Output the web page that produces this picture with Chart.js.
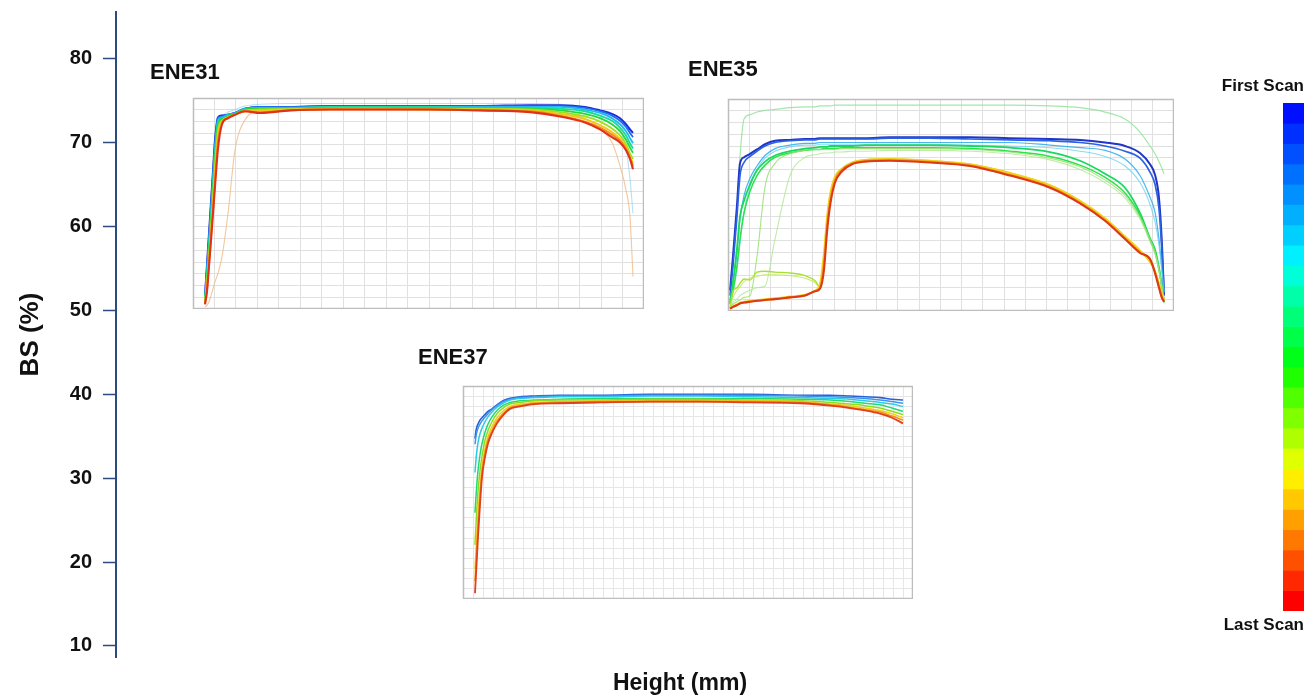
<!DOCTYPE html>
<html>
<head>
<meta charset="utf-8">
<title>BS profiles – ENE31, ENE35, ENE37</title>
<script src="https://cdn.jsdelivr.net/npm/chart.js@4.4.1/dist/chart.umd.min.js"></script>
<style>
  html, body { margin: 0; padding: 0; background: #ffffff; }
  #stage { position: relative; width: 1314px; height: 697px; overflow: hidden; }
  #stage canvas { position: absolute; }
</style>
</head>
<body>
<div id="stage">
  <canvas id="mainAxes" width="1314" height="697" style="left:0;top:0"></canvas>
  <canvas id="ene31" width="494" height="249" style="left:150px;top:60px"></canvas>
  <canvas id="ene35" width="486" height="254" style="left:688px;top:57px"></canvas>
  <canvas id="ene37" width="495" height="254" style="left:418px;top:345px"></canvas>
  <canvas id="scanScale" width="100" height="566" style="left:1210px;top:72px"></canvas>
</div>
<script>
// ---------- axis ticks ----------
const yTickValues = [10, 20, 30, 40, 50, 60, 70, 80];

// ---------- colour scale, first scan (top) to last scan (bottom) ----------
const scanColours = [
  '#0010ff', '#0030ff', '#0050ff', '#0070ff', '#0090ff', '#00b0ff', '#00d0ff',
  '#00f0ff', '#00ffd8', '#00ffa8', '#00ff78', '#00ff48', '#00ff18', '#20ff00',
  '#50ff00', '#80ff00', '#b0ff00', '#e0ff00', '#ffee00', '#ffc800', '#ffa000',
  '#ff7800', '#ff5000', '#ff2800', '#ff0000'
];

// ---------- ENE31 : height (mm) and BS (%) per scan ----------
const ene31Height = [1.2, 1.4, 1.6, 1.8, 2.0, 2.2, 2.5, 2.9, 3.5, 4.2, 5.2, 6.7, 9.7,
  13.7, 18.7, 23.7, 28.7, 33.7, 36.7, 39.2, 40.7, 41.9, 42.7, 43.3, 43.7, 44.0];
const ene31Scan1 = [52.0, 55.6, 59.2, 62.8, 66.4, 70.0, 72.6, 72.8, 72.9, 73.1, 73.6, 73.8, 73.8,
  73.9, 73.9, 73.9, 73.9, 74.0, 74.0, 73.8, 73.4, 73.0, 72.5, 71.8, 71.2, 70.8];
const ene31Scan2 = [51.8, 55.2, 58.8, 62.4, 66.0, 69.6, 72.5, 72.7, 72.9, 73.1, 73.6, 73.8, 73.8,
  73.9, 73.9, 73.9, 73.9, 73.9, 73.9, 73.7, 73.3, 72.8, 72.2, 71.5, 70.8, 70.3];
const ene31Scan3 = [51.6, 54.8, 58.2, 61.8, 65.4, 69.0, 72.3, 72.6, 72.9, 73.1, 73.6, 73.7, 73.7,
  73.8, 73.8, 73.8, 73.8, 73.8, 73.8, 73.5, 73.1, 72.5, 71.8, 71.0, 70.2, 69.6];
const ene31Scan4 = [51.5, 54.4, 57.7, 61.2, 64.8, 68.4, 72.0, 72.5, 72.8, 73.0, 73.5, 73.7, 73.7,
  73.8, 73.8, 73.8, 73.7, 73.7, 73.6, 73.3, 72.8, 72.2, 71.4, 70.5, 69.6, 69.0];
const ene31Scan5 = [51.4, 54.0, 57.2, 60.6, 64.2, 67.8, 71.7, 72.4, 72.7, 73.0, 73.5, 73.6, 73.7,
  73.7, 73.7, 73.7, 73.7, 73.6, 73.4, 73.0, 72.5, 71.8, 71.0, 70.0, 69.1, 68.5];
const ene31Scan6 = [51.3, 53.6, 56.6, 59.9, 63.4, 67.0, 71.2, 72.2, 72.6, 72.9, 73.4, 73.5, 73.6,
  73.6, 73.6, 73.6, 73.6, 73.5, 73.2, 72.7, 72.1, 71.3, 70.5, 69.5, 68.4, 67.8];
const ene31Scan7 = [51.2, 53.2, 56.1, 59.3, 62.7, 66.2, 70.6, 72.1, 72.6, 72.9, 73.3, 73.4, 73.5,
  73.6, 73.6, 73.5, 73.5, 73.4, 73.0, 72.4, 71.7, 70.9, 70.1, 69.2, 68.1, 67.3];
const ene31Scan8 = [51.1, 52.8, 55.7, 58.8, 62.0, 65.3, 69.8, 71.9, 72.5, 72.9, 73.3, 73.2, 73.4,
  73.5, 73.5, 73.5, 73.4, 73.3, 72.8, 72.1, 71.4, 70.6, 69.9, 69.0, 67.9, 67.0];
const ene31Scan9 = [51.0, 52.5, 55.4, 58.4, 61.5, 64.6, 69.0, 71.8, 72.5, 72.9, 73.3, 73.1, 73.4,
  73.5, 73.5, 73.5, 73.4, 73.2, 72.7, 72.0, 71.2, 70.3, 69.7, 68.8, 67.8, 66.6];
const ene31FaintBlue = [51.7, 55.0, 58.5, 62.1, 65.7, 69.3, 72.4, 72.8, 73.2, 73.5, 73.9, 74.1, 74.2,
  74.2, 74.2, 74.2, 74.2, 74.2, 74.1, 73.8, 73.3, 72.5, 71.3, 69.0, 65.5, 61.5];
const ene31FaintOrange = [50.7, 50.9, 51.3, 52.0, 52.8, 53.6, 54.6, 56.5, 61.5, 68.8, 72.3, 73.3, 73.4,
  73.5, 73.5, 73.5, 73.4, 73.2, 73.0, 72.5, 71.3, 69.7, 67.0, 64.2, 61.1, 54.2];

// ---------- ENE35 ----------
const ene35Height = [0.2, 0.5, 0.9, 1.2, 1.6, 2.2, 2.9, 3.7, 4.7, 6.2, 7.7, 8.7, 9.2, 9.6, 9.9, 10.2,
  10.7, 11.4, 12.4, 13.7, 16.2, 20.2, 24.2, 28.2, 32.2, 35.2, 37.7, 39.7, 41.2, 42.2, 42.7, 43.1, 43.4, 43.6];
const ene35FaintTop = [51.1, 55.5, 62.0, 68.0, 72.3, 72.8, 73.1, 73.3, 73.4, 73.6, 73.7, 73.7, 73.8, 73.8, 73.8, 73.8,
  73.9, 73.9, 73.9, 73.9, 73.9, 73.9, 73.9, 73.9, 73.8, 73.6, 73.1, 72.3, 70.8, 69.2, 68.3, 67.4, 66.6, 66.0];
const ene35Scan1 = [52.6, 56.5, 62.4, 67.2, 67.9, 68.3, 68.8, 69.4, 69.8, 69.9, 70.0, 70.0, 70.1, 70.1, 70.1, 70.1,
  70.1, 70.1, 70.1, 70.1, 70.2, 70.2, 70.2, 70.1, 70.0, 69.9, 69.6, 69.2, 68.4, 67.1, 65.9, 63.2, 57.8, 52.0];
const ene35Scan2 = [52.0, 55.5, 61.2, 65.8, 67.3, 68.0, 68.6, 69.2, 69.6, 69.8, 69.9, 69.9, 70.0, 70.0, 70.0, 70.0,
  70.0, 70.0, 70.0, 70.0, 70.1, 70.1, 70.0, 69.9, 69.8, 69.6, 69.2, 68.6, 67.8, 66.2, 64.8, 62.0, 57.0, 52.5];
const ene35Scan3 = [51.5, 53.5, 57.0, 60.8, 63.5, 65.5, 66.9, 68.1, 68.9, 69.3, 69.5, 69.5, 69.6, 69.6, 69.6, 69.6,
  69.6, 69.6, 69.6, 69.6, 69.6, 69.6, 69.6, 69.6, 69.3, 69.0, 68.7, 67.7, 65.8, 63.3, 61.6, 58.5, 55.0, 52.5];
const ene35Scan4 = [51.3, 52.5, 55.0, 58.0, 61.5, 64.5, 66.5, 67.8, 68.6, 69.1, 69.3, 69.3, 69.4, 69.4, 69.4, 69.4,
  69.4, 69.4, 69.4, 69.4, 69.4, 69.4, 69.3, 69.2, 69.0, 68.6, 68.0, 66.9, 65.0, 62.5, 60.5, 57.8, 54.6, 52.4];
const ene35Scan5 = [51.1, 53.5, 57.5, 61.1, 62.9, 64.8, 66.4, 67.4, 68.1, 68.6, 68.9, 69.0, 69.1, 69.1, 69.1, 69.2,
  69.2, 69.2, 69.2, 69.3, 69.3, 69.3, 69.2, 69.0, 68.5, 67.5, 66.0, 64.4, 61.5, 58.6, 57.3, 55.2, 53.0, 51.3];
const ene35Scan6 = [51.0, 52.5, 55.5, 58.5, 61.5, 64.0, 65.8, 67.0, 67.9, 68.4, 68.7, 68.8, 68.8, 68.9, 68.9, 68.9,
  68.9, 69.0, 69.0, 69.0, 69.0, 69.0, 68.9, 68.6, 68.0, 67.0, 65.6, 63.8, 61.2, 58.4, 57.0, 55.0, 52.8, 51.2];
const ene35Scan7 = [50.8, 51.0, 51.3, 51.5, 51.8, 52.0, 56.5, 64.5, 67.2, 68.3, 68.7, 68.8, 68.8, 68.8, 68.8, 68.8,
  68.8, 68.9, 68.9, 68.9, 68.9, 68.9, 68.8, 68.5, 67.8, 66.8, 65.3, 63.5, 61.0, 58.5, 57.0, 55.0, 53.0, 51.5];
const ene35Scan8 = [50.7, 51.2, 51.6, 52.0, 52.3, 52.6, 52.9, 53.1, 58.5, 65.8, 67.9, 68.2, 68.3, 68.4, 68.4, 68.4,
  68.5, 68.5, 68.6, 68.6, 68.7, 68.7, 68.6, 68.3, 67.6, 66.5, 65.0, 63.2, 60.8, 58.2, 56.8, 54.8, 52.8, 51.4];
const ene35Scan9 = [50.6, 52.5, 52.9, 53.4, 53.9, 53.8, 54.7, 54.8, 54.7, 54.6, 54.3, 53.7, 53.0, 56.6, 60.8, 63.5,
  65.6, 66.6, 67.3, 67.6, 67.7, 67.5, 67.1, 66.1, 64.7, 62.9, 60.9, 58.8, 57.2, 55.9, 54.8, 53.4, 52.2, 51.6];
const ene35Scan10 = [50.6, 51.8, 52.6, 53.0, 53.6, 54.0, 54.2, 54.4, 54.4, 54.3, 54.0, 53.5, 52.9, 56.2, 60.5, 63.3,
  65.5, 66.5, 67.2, 67.5, 67.6, 67.4, 67.0, 66.0, 64.6, 62.8, 60.8, 58.7, 57.1, 55.8, 54.7, 53.3, 52.1, 51.5];
const ene35Scan11 = [50.5, 50.8, 51.0, 51.2, 51.3, 51.4, 51.5, 51.6, 51.7, 51.9, 52.1, 52.6, 53.4, 57.0, 61.0, 63.6,
  65.7, 66.6, 67.3, 67.6, 67.7, 67.5, 67.1, 66.1, 64.7, 62.9, 60.9, 58.8, 57.2, 55.9, 54.8, 53.4, 52.2, 51.6];
const ene35Scan12 = [50.5, 50.7, 50.9, 51.1, 51.2, 51.3, 51.4, 51.5, 51.6, 51.8, 52.0, 52.5, 52.9, 55.8, 60.0, 62.8,
  65.3, 66.5, 67.2, 67.5, 67.6, 67.4, 67.0, 65.9, 64.5, 62.7, 60.7, 58.6, 57.0, 56.2, 54.7, 53.0, 51.8, 51.4];
const ene35Scan13 = [50.5, 50.7, 50.9, 51.1, 51.2, 51.3, 51.4, 51.5, 51.6, 51.8, 52.0, 52.5, 52.8, 55.0, 59.3, 62.3,
  65.0, 66.3, 67.1, 67.4, 67.5, 67.3, 66.9, 65.8, 64.4, 62.6, 60.6, 58.5, 56.9, 56.2, 54.6, 52.9, 51.7, 51.3];

// ---------- ENE37 ----------
const ene37Height = [1.2, 1.3, 1.4, 1.5, 1.7, 1.9, 2.2, 2.5, 2.9, 3.4, 4.0, 4.7, 5.7, 7.2, 9.7,
  13.7, 18.7, 23.7, 28.7, 33.7, 36.7, 38.7, 40.2, 41.7, 42.9, 44.0];
const ene37Scan1 = [35.2, 36.2, 36.7, 37.0, 37.5, 37.8, 38.2, 38.6, 38.9, 39.4, 39.9, 40.2, 40.4, 40.5, 40.6,
  40.6, 40.7, 40.7, 40.7, 40.6, 40.6, 40.5, 40.4, 40.3, 40.1, 40.0];
const ene37Scan2 = [34.5, 35.5, 36.1, 36.5, 37.0, 37.4, 37.9, 38.3, 38.8, 39.3, 39.8, 40.1, 40.3, 40.4, 40.5,
  40.5, 40.6, 40.6, 40.6, 40.5, 40.4, 40.3, 40.2, 40.0, 39.8, 39.6];
const ene37Scan3 = [31.0, 32.6, 33.8, 34.7, 35.8, 36.5, 37.3, 37.9, 38.5, 39.1, 39.6, 40.0, 40.2, 40.3, 40.4,
  40.4, 40.5, 40.5, 40.4, 40.3, 40.2, 40.1, 39.9, 39.7, 39.5, 39.2];
const ene37Scan4 = [26.0, 28.0, 29.8, 31.2, 33.2, 34.6, 36.0, 37.0, 37.9, 38.7, 39.3, 39.7, 39.9, 40.0, 40.1,
  40.2, 40.2, 40.2, 40.2, 40.1, 40.0, 39.8, 39.6, 39.4, 39.0, 38.6];
const ene37Scan5 = [22.0, 24.5, 26.8, 28.6, 31.2, 33.0, 35.0, 36.2, 37.3, 38.3, 39.0, 39.5, 39.7, 39.9, 40.0,
  40.0, 40.1, 40.1, 40.0, 39.9, 39.7, 39.5, 39.3, 39.0, 38.6, 38.2];
const ene37Scan6 = [19.0, 21.3, 23.6, 25.8, 29.2, 31.8, 34.0, 35.5, 36.7, 37.8, 38.6, 39.2, 39.5, 39.7, 39.8,
  39.9, 39.9, 39.9, 39.9, 39.8, 39.5, 39.3, 39.0, 38.7, 38.3, 37.8];
const ene37Scan7 = [17.5, 19.8, 22.0, 24.3, 28.0, 31.0, 33.4, 35.0, 36.2, 37.4, 38.3, 39.0, 39.3, 39.6, 39.7,
  39.8, 39.8, 39.8, 39.8, 39.7, 39.4, 39.1, 38.8, 38.5, 38.0, 37.5];
const ene37Scan8 = [16.0, 18.3, 20.6, 23.0, 27.0, 30.4, 32.9, 34.6, 35.9, 37.1, 38.1, 38.9, 39.2, 39.5, 39.6,
  39.7, 39.8, 39.8, 39.7, 39.6, 39.3, 39.0, 38.7, 38.3, 37.8, 37.1];

// ---------- helpers ----------
const FONT = '"Liberation Sans", Arial, Helvetica, sans-serif';
const INK = '#111111';
const AXIS_BLUE = '#2c4a7e';

function scanLine(heights, values, colour, width, order) {
  return {
    data: heights.map((h, i) => ({ x: h, y: values[i] })),
    borderColor: colour,
    borderWidth: width,
    pointRadius: 0,
    fill: false,
    cubicInterpolationMode: 'monotone',
    order: order
  };
}

// white panel with a grey frame around the plotting area
const panelFrame = {
  id: 'panelFrame',
  beforeDraw(chart) {
    const { ctx, chartArea: a } = chart;
    ctx.save();
    ctx.fillStyle = '#ffffff';
    ctx.fillRect(a.left, a.top, a.right - a.left, a.bottom - a.top);
    ctx.restore();
  },
  afterDraw(chart) {
    const { ctx, chartArea: a } = chart;
    ctx.save();
    ctx.strokeStyle = '#bdbdbd';
    ctx.lineWidth = 1.5;
    ctx.strokeRect(a.left + 0.5, a.top + 0.5, a.right - a.left - 1, a.bottom - a.top - 1);
    ctx.restore();
  }
};

function evenTicks(stepCount) {
  return scale => {
    const ticks = [];
    const step = (scale.max - scale.min) / stepCount;
    for (let i = 0; i <= stepCount; i++) ticks.push({ value: scale.min + i * step });
    scale.ticks = ticks;
  };
}

function panelChart(canvasId, title, datasets, cfg) {
  return new Chart(document.getElementById(canvasId), {
    type: 'line',
    data: { datasets },
    plugins: [panelFrame],
    options: {
      responsive: false,
      animation: false,
      devicePixelRatio: 1,
      events: [],
      layout: { padding: 0 },
      plugins: {
        legend: { display: false },
        tooltip: { enabled: false },
        title: {
          display: true, text: title, align: 'start', color: INK,
          font: { family: FONT, size: 22, weight: 'bold' },
          padding: { top: 0, bottom: cfg.titleGap }
        }
      },
      scales: {
        x: {
          type: 'linear', min: 0, max: cfg.xMax,
          afterBuildTicks: evenTicks(cfg.cols),
          afterFit: s => { s.height = 0; },
          ticks: { display: false },
          border: { display: false },
          grid: { color: cfg.gridColour, lineWidth: 1, drawTicks: false }
        },
        y: {
          type: 'linear', min: cfg.yMin, max: cfg.yMax,
          afterBuildTicks: evenTicks(cfg.rows),
          afterFit: s => { s.width = cfg.inset; },
          ticks: { display: false },
          border: { display: false },
          grid: { color: cfg.gridColour, lineWidth: 1, drawTicks: false }
        }
      }
    }
  });
}

// ---------- main axes: BS (%) against height ----------
new Chart(document.getElementById('mainAxes'), {
  type: 'line',
  data: { datasets: [] },
  options: {
    responsive: false,
    animation: false,
    devicePixelRatio: 1,
    events: [],
    layout: { padding: { top: 12, right: 70, left: 0, bottom: 0 } },
    plugins: { legend: { display: false }, tooltip: { enabled: false } },
    scales: {
      x: {
        type: 'linear', min: 0, max: 1,
        afterFit: s => { s.height = 40; s.paddingLeft = 0; s.paddingRight = 0; },
        ticks: { display: false },
        border: { display: false },
        grid: { display: false },
        title: {
          display: true, text: 'Height (mm)', color: INK,
          font: { family: FONT, size: 23, weight: 'bold' },
          padding: { top: 0, bottom: 0 }
        }
      },
      y: {
        type: 'linear', min: 8.67, max: 85.6,
        afterBuildTicks: s => { s.ticks = yTickValues.map(v => ({ value: v })); },
        afterFit: s => { s.width = 116; s.paddingTop = 0; s.paddingBottom = 0; },
        ticks: {
          autoSkip: false, padding: 11, color: INK,
          font: { family: FONT, size: 20, weight: 'bold' }
        },
        border: { display: true, color: AXIS_BLUE, width: 2 },
        grid: {
          drawOnChartArea: false, drawTicks: true, tickLength: 13,
          tickColor: AXIS_BLUE, tickWidth: 1.5
        },
        title: {
          display: true, text: 'BS (%)', color: INK,
          font: { family: FONT, size: 26, weight: 'bold' },
          padding: { top: 15, bottom: 0 }
        }
      }
    }
  }
});

// ---------- ENE31 panel ----------
panelChart('ene31', 'ENE31', [
  scanLine(ene31Height, ene31FaintBlue, 'rgba(120,200,235,0.55)', 1.1, 20),
  scanLine(ene31Height, ene31FaintOrange, 'rgba(240,190,140,0.85)', 1.1, 20),
  scanLine(ene31Height, ene31Scan1, '#1c2bd6', 2.0, 0),
  scanLine(ene31Height, ene31Scan2, '#1f6cf0', 1.8, -1),
  scanLine(ene31Height, ene31Scan3, '#1fb8f0', 1.8, -2),
  scanLine(ene31Height, ene31Scan4, '#19d9a0', 1.8, -3),
  scanLine(ene31Height, ene31Scan5, '#22d83a', 1.8, -4),
  scanLine(ene31Height, ene31Scan6, '#9be01c', 1.8, -5),
  scanLine(ene31Height, ene31Scan7, '#f2c71a', 1.8, -6),
  scanLine(ene31Height, ene31Scan8, '#f58a1c', 1.9, -7),
  scanLine(ene31Height, ene31Scan9, '#e0321a', 2.1, -8)
], { xMax: 45.1, cols: 21, yMin: 50.46, yMax: 74.83, rows: 18, inset: 43, titleGap: 11.6, gridColour: '#e0e0e0' });

// ---------- ENE35 panel ----------
panelChart('ene35', 'ENE35', [
  scanLine(ene35Height, ene35FaintTop, 'rgba(140,225,150,0.8)', 1.2, 20),
  scanLine(ene35Height, ene35Scan1, '#2035c8', 2.0, 0),
  scanLine(ene35Height, ene35Scan2, '#2a62e0', 1.7, -1),
  scanLine(ene35Height, ene35Scan3, 'rgba(40,170,235,0.85)', 1.2, -2),
  scanLine(ene35Height, ene35Scan4, 'rgba(100,205,240,0.75)', 1.1, -3),
  scanLine(ene35Height, ene35Scan5, '#19d860', 1.8, -4),
  scanLine(ene35Height, ene35Scan6, '#2ee04a', 1.5, -5),
  scanLine(ene35Height, ene35Scan7, 'rgba(150,225,110,0.85)', 1.1, -6),
  scanLine(ene35Height, ene35Scan8, 'rgba(170,230,140,0.75)', 1.1, -7),
  scanLine(ene35Height, ene35Scan9, '#a8e03a', 1.4, -8),
  scanLine(ene35Height, ene35Scan10, 'rgba(190,230,80,0.8)', 1.1, -9),
  scanLine(ene35Height, ene35Scan11, '#f3d21a', 1.8, -10),
  scanLine(ene35Height, ene35Scan12, '#f59a1e', 1.8, -11),
  scanLine(ene35Height, ene35Scan13, '#dc3a14', 2.1, -12)
], { xMax: 44.6, cols: 21, yMin: 50.23, yMax: 74.6, rows: 18, inset: 40, titleGap: 15.6, gridColour: '#e0e0e0' });

// ---------- ENE37 panel ----------
panelChart('ene37', 'ENE37', [
  scanLine(ene37Height, ene37Scan1, '#2a5fd8', 1.6, 0),
  scanLine(ene37Height, ene37Scan2, '#3e94ea', 1.5, -1),
  scanLine(ene37Height, ene37Scan3, '#2ec8e6', 1.5, -2),
  scanLine(ene37Height, ene37Scan4, '#22d870', 1.5, -3),
  scanLine(ene37Height, ene37Scan5, '#8edc22', 1.5, -4),
  scanLine(ene37Height, ene37Scan6, '#f0cf1c', 1.5, -5),
  scanLine(ene37Height, ene37Scan7, '#f49020', 1.6, -6),
  scanLine(ene37Height, ene37Scan8, '#e0401c', 1.8, -7)
], { xMax: 45.0, cols: 45, yMin: 15.28, yMax: 41.74, rows: 21, inset: 45, titleGap: 14.6, gridColour: '#e6e6e6' });

// ---------- scan order colour scale ----------
new Chart(document.getElementById('scanScale'), {
  type: 'bar',
  data: {
    labels: [''],
    datasets: scanColours.map(c => ({
      data: [1], backgroundColor: c, borderWidth: 0,
      barPercentage: 1, categoryPercentage: 1
    }))
  },
  options: {
    responsive: false,
    animation: false,
    devicePixelRatio: 1,
    events: [],
    layout: { padding: { right: 6 } },
    plugins: {
      legend: { display: false },
      tooltip: { enabled: false },
      title: {
        display: true, text: 'First Scan', align: 'end', color: INK,
        font: { family: FONT, size: 17, weight: 'bold' },
        padding: { top: 3.8, bottom: 6.8 }
      },
      subtitle: {
        display: true, text: 'Last Scan', align: 'end', position: 'bottom', color: INK,
        font: { family: FONT, size: 17, weight: 'bold' },
        padding: { top: 3.8, bottom: 2.8 }
      }
    },
    scales: {
      x: {
        stacked: true, display: true,
        afterFit: s => { s.height = 0; },
        ticks: { display: false }, grid: { display: false }, border: { display: false }
      },
      y: {
        stacked: true, reverse: true, min: 0, max: scanColours.length, display: true,
        afterFit: s => { s.width = 73; },
        ticks: { display: false }, grid: { display: false }, border: { display: false }
      }
    }
  }
});
</script>
</body>
</html>
